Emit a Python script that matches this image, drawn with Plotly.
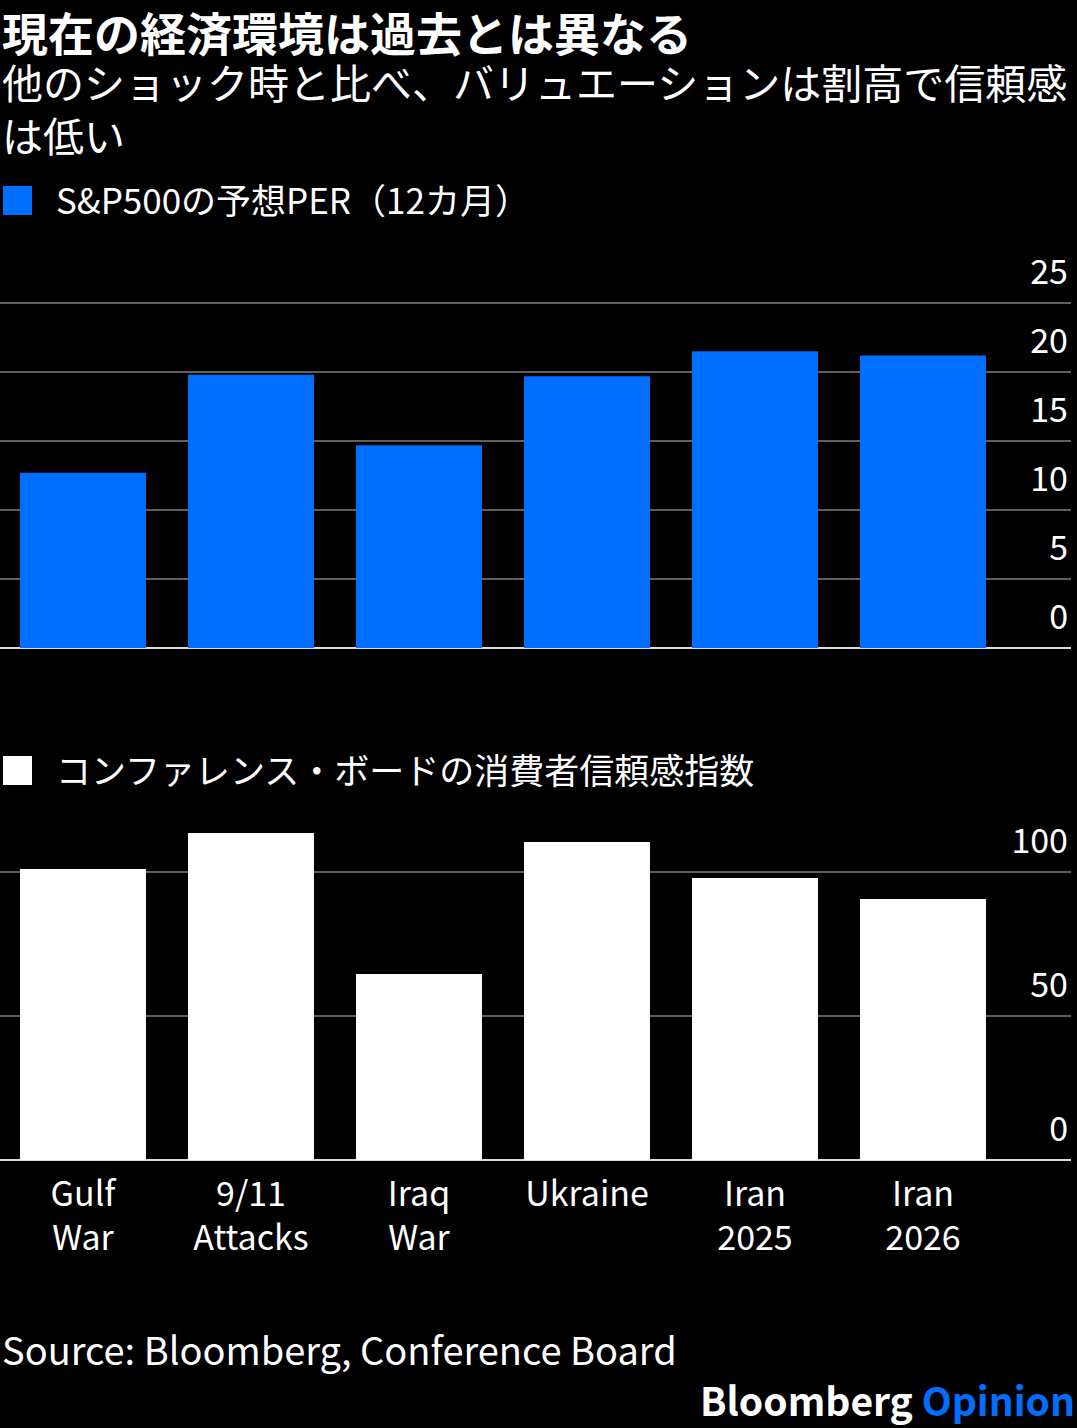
import plotly.graph_objects as go

categories = ["Gulf<br>War", "9/11<br>Attacks", "Iraq<br>War", "Ukraine", "Iran<br>2025", "Iran<br>2026"]
pe_values = [12.7, 19.8, 14.7, 19.7, 21.5, 21.2]
confidence_values = [101.0, 113.5, 64.6, 110.4, 97.9, 90.6]
pe_ticks = [0, 5, 10, 15, 20, 25]
conf_ticks = [0, 50, 100]

title = "現在の経済環境は過去とは異なる"
subtitle = "他のショック時と比べ、バリュエーションは割高で信頼感<br>は低い"
legend1 = "S&P500の予想PER（12カ月）"
legend2 = "コンファレンス・ボードの消費者信頼感指数"
source = "Source: Bloomberg, Conference Board"

W, H = 1077, 1428
BLUE = "#006EFF"
FONT = "Noto Sans CJK JP"
GRID = "#5f5f5f"

def py(px):
    return 1 - px / H

fig = go.Figure()
fig.add_trace(go.Bar(x=categories, y=pe_values, marker=dict(color=BLUE, line=dict(width=0)),
                     name=legend1, xaxis="x", yaxis="y", showlegend=False, hoverinfo="skip"))
fig.add_trace(go.Bar(x=categories, y=confidence_values, marker=dict(color="#ffffff", line=dict(width=0)),
                     name=legend2, xaxis="x2", yaxis="y2", showlegend=False, hoverinfo="skip"))

xcommon = dict(type="category", range=[-0.494, 5.881], domain=[0, 1071 / W],
               showgrid=False, zeroline=False, showline=False, fixedrange=True)
ycommon = dict(side="right", ticklabelposition="inside top", showgrid=True, gridcolor=GRID,
               gridwidth=2, zeroline=True, zerolinecolor="#d9d9d9", zerolinewidth=2,
               showline=False, ticks="", tickfont=dict(family=FONT, size=34, color="#ffffff"),
               ticklabelshift=-7, fixedrange=True)

# pixel scales: top 13.8 px/unit (0 at y=648); bottom 2.88 px/unit (0 at y=1160)
top_max, bot_max = 30, 125
fig.update_layout(
    width=W, height=H,
    margin=dict(l=0, r=0, t=0, b=0),
    paper_bgcolor="#000000", plot_bgcolor="#000000",
    bargap=0.25,
    font=dict(family=FONT, color="#ffffff"),
    xaxis=dict(**xcommon, anchor="y", showticklabels=False),
    yaxis=dict(**ycommon, anchor="x", domain=[py(648), py(648 - 13.8 * top_max)], range=[0, top_max],
               tickvals=pe_ticks, ticktext=[str(v) for v in pe_ticks]),
    xaxis2=dict(**xcommon, anchor="y2", showticklabels=True,
                tickfont=dict(family=FONT, size=34, color="#ffffff"), ticks="outside",
                ticklen=4, tickcolor="rgba(0,0,0,0)"),
    yaxis2=dict(**ycommon, anchor="x2", domain=[py(1160), py(1160 - 2.88 * bot_max)], range=[0, bot_max],
                tickvals=conf_ticks, ticktext=[str(v) for v in conf_ticks]),
)

ann = []
ann.append(dict(text=f"<b>{title}</b>", x=0, y=py(31), xref="paper", yref="paper",
                xanchor="left", yanchor="middle", showarrow=False,
                font=dict(family=FONT, size=46, color="#ffffff")))
ann.append(dict(text=subtitle, x=0, y=py(49), xref="paper", yref="paper",
                xanchor="left", yanchor="top", showarrow=False, align="left",
                font=dict(family=FONT, size=41, color="#ffffff")))
ann.append(dict(text=legend1, x=54 / W, y=py(199), xref="paper", yref="paper",
                xanchor="left", yanchor="middle", showarrow=False,
                font=dict(family=FONT, size=35, color="#ffffff")))
ann.append(dict(text=legend2, x=54 / W, y=py(768), xref="paper", yref="paper",
                xanchor="left", yanchor="middle", showarrow=False,
                font=dict(family=FONT, size=35, color="#ffffff")))
ann.append(dict(text=source, x=0, y=py(1348), xref="paper", yref="paper",
                xanchor="left", yanchor="middle", showarrow=False,
                font=dict(family=FONT, size=38, color="#ffffff")))
ann.append(dict(text="<b>Bloomberg</b> <b><span style='color:%s'>Opinion</span></b>" % BLUE,
                x=1077 / W, y=py(1399), xref="paper", yref="paper",
                xanchor="right", yanchor="middle", showarrow=False,
                font=dict(family=FONT, size=39, color="#ffffff")))
fig.update_layout(annotations=ann)

shapes = []
for (top, color) in [(186, BLUE), (756, "#ffffff")]:
    shapes.append(dict(type="rect", xref="paper", yref="paper",
                       x0=3 / W, x1=32 / W, y0=py(top + 29), y1=py(top),
                       fillcolor=color, line=dict(width=0), layer="above"))
fig.update_layout(shapes=shapes)

fig.write_html("out.html")
